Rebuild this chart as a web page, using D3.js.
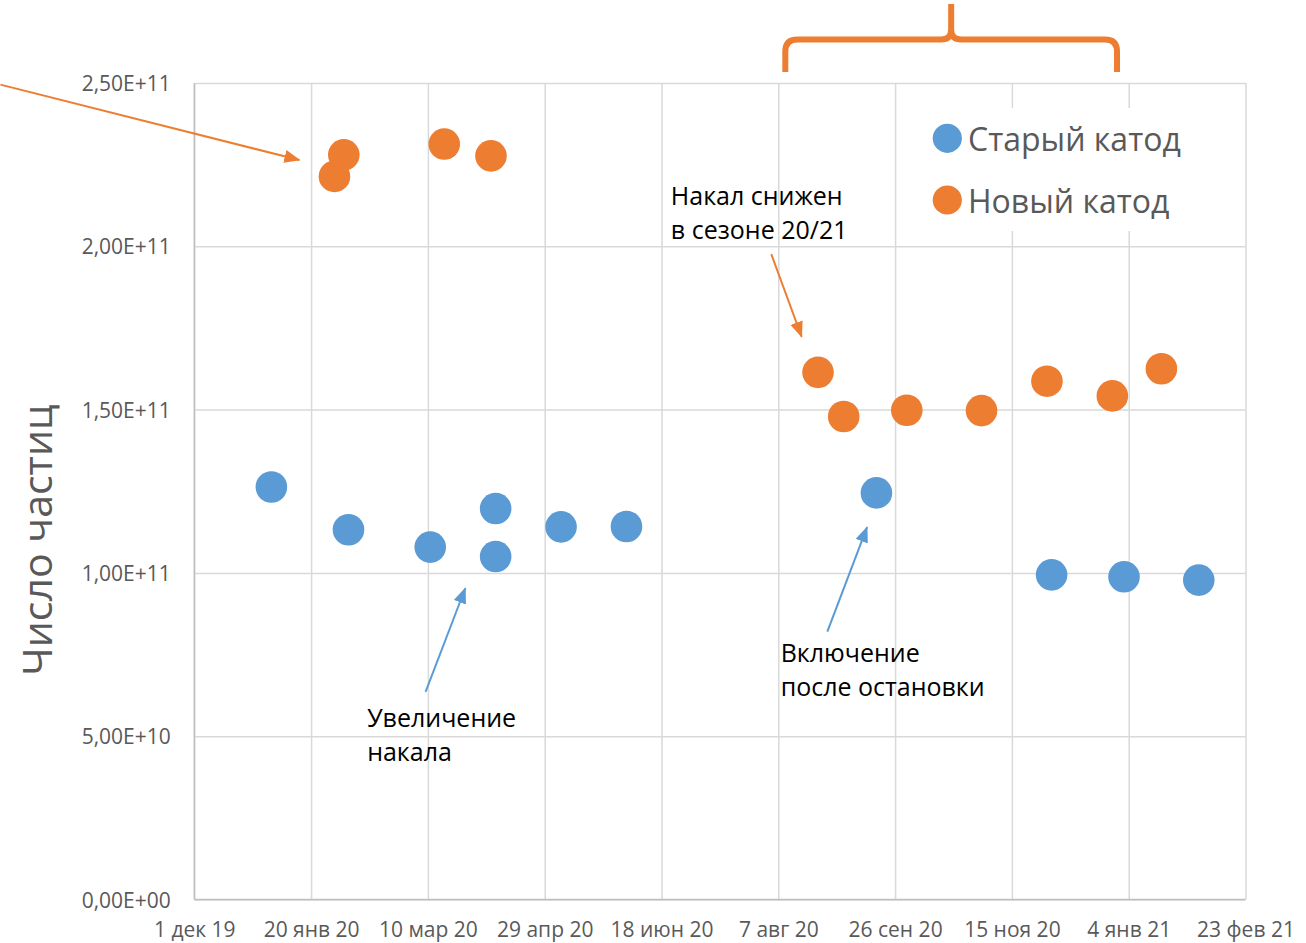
<!DOCTYPE html>
<html>
<head>
<meta charset="utf-8">
<script src="https://cdn.jsdelivr.net/npm/d3@7"></script>
<style>
  html, body { margin: 0; padding: 0; background: #ffffff; }
  svg { display: block; }
  text { font-family: "Open Sans", "Noto Sans", sans-serif; }
</style>
</head>
<body>
<svg id="chart" width="1306" height="943"></svg>
<script>
// Measurement dates and particle counts for the two cathodes
const oldCathodeDates = ["2020-01-03", "2020-02-05", "2020-03-11", "2020-04-08", "2020-04-08",
  "2020-05-06", "2020-06-03", "2020-09-18", "2020-12-02", "2021-01-02", "2021-02-03"];
const oldCathodeValues = [1.263e11, 1.132e11, 1.079e11, 1.197e11, 1.050e11,
  1.141e11, 1.142e11, 1.245e11, 9.94e10, 9.88e10, 9.78e10];

const newCathodeDates = ["2020-01-30", "2020-02-03", "2020-03-17", "2020-04-06", "2020-08-24",
  "2020-09-04", "2020-10-01", "2020-11-02", "2020-11-30", "2020-12-28", "2021-01-18"];
const newCathodeValues = [2.214e11, 2.280e11, 2.313e11, 2.277e11, 1.614e11,
  1.479e11, 1.498e11, 1.497e11, 1.587e11, 1.542e11, 1.625e11];

const seriesNames = ["Старый катод", "Новый катод"];

// Axis ticks
const xTickDates = ["2019-12-01", "2020-01-20", "2020-03-10", "2020-04-29", "2020-06-18",
  "2020-08-07", "2020-09-26", "2020-11-15", "2021-01-04", "2021-02-23"];
const xTickLabels = ["1 дек 19", "20 янв 20", "10 мар 20", "29 апр 20", "18 июн 20",
  "7 авг 20", "26 сен 20", "15 ноя 20", "4 янв 21", "23 фев 21"];
const yTickValues = [0, 5e10, 1e11, 1.5e11, 2e11, 2.5e11];
const yTickLabels = ["0,00E+00", "5,00E+10", "1,00E+11", "1,50E+11", "2,00E+11", "2,50E+11"];
const yTitle = "Число частиц";

// Callouts, anchored in data space: [date, value]
const callouts = [
  { color: "#ED7D31", from: ["2019-09-09", 2.495e11], to: ["2020-01-15", 2.264e11] },
  { color: "#ED7D31", from: ["2020-08-04", 1.976e11], to: ["2020-08-17", 1.723e11] },
  { color: "#5B9BD5", from: ["2020-03-09", 6.36e10], to: ["2020-03-26", 9.53e10] },
  { color: "#5B9BD5", from: ["2020-08-28", 8.20e10], to: ["2020-09-14", 1.140e11] }
];
const notes = [
  { at: ["2020-06-22", 2.126e11], lines: ["Накал снижен", "в сезоне 20/21"] },
  { at: ["2020-02-13", 5.28e10], lines: ["Увеличение", "накала"] },
  { at: ["2020-08-08", 7.28e10], lines: ["Включение", "после остановки"] }
];
// Curly brace over the 20/21 season
const braceSpan = ["2020-08-10", "2020-10-20", "2020-12-30"];

const COLORS = ["#5B9BD5", "#ED7D31"];
const GRID = "#D9D9D9";
const AXIS = "#BFBFBF";
const LABEL = "#595959";

const parse = d3.utcParse("%Y-%m-%d");
const svg = d3.select("#chart");

const plot = { left: 194.3, right: 1245.5, top: 83, bottom: 899.5 };

const x = d3.scaleUtc()
  .domain([parse(xTickDates[0]), parse(xTickDates[xTickDates.length - 1])])
  .range([plot.left, plot.right]);
const y = d3.scaleLinear()
  .domain([0, 2.5e11])
  .range([plot.bottom, plot.top]);

// Gridlines via axes
const xGrid = svg.append("g")
  .attr("transform", `translate(0,${plot.bottom})`)
  .call(d3.axisBottom(x)
    .tickValues(xTickDates.map(parse))
    .tickSize(-(plot.bottom - plot.top))
    .tickFormat((d, i) => xTickLabels[i]));
xGrid.select(".domain").remove();
xGrid.selectAll(".tick line").attr("stroke", GRID).attr("stroke-width", 1.5);
xGrid.selectAll(".tick text")
  .attr("y", 37.5).attr("dy", null)
  .attr("fill", LABEL).attr("font-size", 21)
  .attr("font-family", "Open Sans, sans-serif");

const yGrid = svg.append("g")
  .attr("transform", `translate(${plot.left},0)`)
  .call(d3.axisLeft(y)
    .tickValues(yTickValues)
    .tickSize(-(plot.right - plot.left))
    .tickFormat((d, i) => yTickLabels[i]));
yGrid.select(".domain").remove();
yGrid.selectAll(".tick line").attr("stroke", GRID).attr("stroke-width", 1.5);
yGrid.selectAll(".tick text")
  .attr("x", -23.5).attr("dy", "0.36em")
  .attr("fill", LABEL).attr("font-size", 21)
  .attr("font-family", "Open Sans, sans-serif");

// Axis lines
svg.append("line")
  .attr("x1", plot.left).attr("x2", plot.left)
  .attr("y1", plot.top).attr("y2", plot.bottom)
  .attr("stroke", AXIS).attr("stroke-width", 1.5);
svg.append("line")
  .attr("x1", plot.left).attr("x2", plot.right)
  .attr("y1", plot.bottom).attr("y2", plot.bottom)
  .attr("stroke", AXIS).attr("stroke-width", 1.5);

// Y-axis title
svg.append("text")
  .attr("transform", `translate(52,540) rotate(-90)`)
  .attr("text-anchor", "middle")
  .attr("fill", LABEL)
  .attr("font-size", 41)
  .text(yTitle);

// Legend (white panel over the grid)
const legend = svg.append("g").attr("transform", "translate(925,108)");
legend.append("rect")
  .attr("width", 270).attr("height", 123)
  .attr("fill", "#ffffff");
seriesNames.forEach((name, i) => {
  const row = legend.append("g").attr("transform", `translate(0,${30.3 + i * 61.7})`);
  row.append("circle").attr("cx", 22.3).attr("cy", 0).attr("r", 14.6).attr("fill", COLORS[i]);
  row.append("text").attr("x", 43).attr("y", 12.5)
    .attr("fill", LABEL).attr("font-size", 32).text(name);
});

// Scatter points
const series = [
  { dates: oldCathodeDates, values: oldCathodeValues, color: COLORS[0] },
  { dates: newCathodeDates, values: newCathodeValues, color: COLORS[1] }
];
series.forEach(s => {
  svg.append("g")
    .selectAll("circle")
    .data(s.dates.map((d, i) => ({ date: parse(d), value: s.values[i] })))
    .join("circle")
    .attr("cx", d => x(d.date))
    .attr("cy", d => y(d.value))
    .attr("r", 15.8)
    .attr("fill", s.color);
});

// Arrowheads
const defs = svg.append("defs");
COLORS.forEach((c, i) => {
  defs.append("marker")
    .attr("id", "head" + i)
    .attr("markerUnits", "userSpaceOnUse")
    .attr("viewBox", "0 0 16 13")
    .attr("refX", 15).attr("refY", 6.5)
    .attr("markerWidth", 16).attr("markerHeight", 13)
    .attr("orient", "auto")
    .append("path").attr("d", "M0,0 L16,6.5 L0,13 Z").attr("fill", c);
});

callouts.forEach(c => {
  svg.append("line")
    .attr("x1", x(parse(c.from[0]))).attr("y1", y(c.from[1]))
    .attr("x2", x(parse(c.to[0]))).attr("y2", y(c.to[1]))
    .attr("stroke", c.color).attr("stroke-width", 2)
    .attr("marker-end", `url(#head${COLORS.indexOf(c.color)})`);
});

notes.forEach(n => {
  const t = svg.append("text")
    .attr("x", x(parse(n.at[0])))
    .attr("y", y(n.at[1]))
    .attr("fill", "#000000")
    .attr("font-size", 25);
  n.lines.forEach((line, i) => {
    t.append("tspan")
      .attr("x", x(parse(n.at[0])))
      .attr("dy", i === 0 ? 0 : 34)
      .text(line);
  });
});

// Brace above the plot
const [bl, bm, br] = braceSpan.map(d => x(parse(d)));
const yb = plot.top - 11, yh = 39.5, yt = 4, rr = 12;
svg.append("path")
  .attr("d", `M${bl},${yb} V${yh + rr} Q${bl},${yh} ${bl + rr},${yh} H${bm - 10} Q${bm},${yh} ${bm},${yh - 10} V${yt}
              M${bm},${yh - 10} Q${bm},${yh} ${bm + 10},${yh} H${br - rr} Q${br},${yh} ${br},${yh + rr} V${yb}`)
  .attr("fill", "none")
  .attr("stroke", "#ED7D31")
  .attr("stroke-width", 6);
</script>
</body>
</html>
